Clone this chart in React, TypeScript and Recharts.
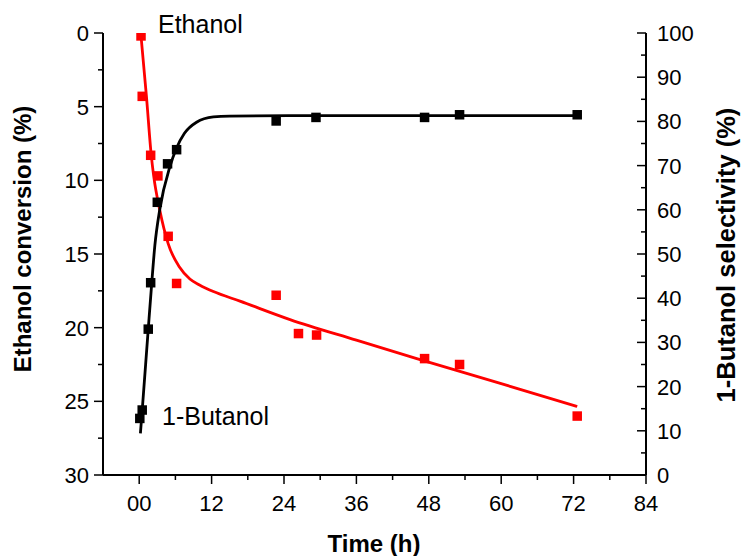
import { ComposedChart, XAxis, YAxis, Line, Scatter, Customized } from 'recharts'

const FONT = "Arial, 'Liberation Sans', sans-serif"

// measured points
const ethanolHours = [0.3, 0.5, 1.9, 3.1, 4.8, 6.2, 22.7, 26.4, 29.4, 47.3, 53.1, 72.6]
const ethanolConversion = [0.2, 4.3, 8.3, 9.7, 13.8, 17.0, 17.8, 20.4, 20.5, 22.1, 22.5, 26.0]
const butanolHours = [0.1, 0.5, 1.5, 1.9, 3.0, 4.7, 6.2, 22.7, 29.3, 47.3, 53.1, 72.6]
const butanolSelectivity = [12.8, 14.7, 33.0, 43.5, 61.7, 70.4, 73.6, 80.1, 80.9, 80.9, 81.5, 81.5]

// fitted curves
const ethanolFitHours = [0.3, 1.2, 2.0, 2.4, 3.4, 4.8, 6.7, 8.4, 10, 12.3, 16.7, 25, 36, 46, 60, 72.6]
const ethanolFitConversion = [0.2, 4.3, 8.3, 9.7, 12.0, 14.3, 15.9, 16.7, 17.1, 17.55, 18.2, 19.45, 20.85, 22.1, 23.8, 25.35]
const butanolFitHours = [0.2, 0.5, 1.5, 2.0, 2.6, 3.4, 5.1, 6.2, 7.5, 9.5, 12.3, 15, 24.8, 72.6]
const butanolFitSelectivity = [9.4, 14.7, 33, 42, 52, 60, 69.8, 74.0, 77.3, 79.8, 81.0, 81.2, 81.3, 81.3]

const timeTicks = [0, 6, 12, 18, 24, 30, 36, 42, 48, 54, 60, 66, 72, 78, 84]
const conversionTicks = [0, 2.5, 5, 7.5, 10, 12.5, 15, 17.5, 20, 22.5, 25, 27.5, 30]
const selectivityTicks = [0, 5, 10, 15, 20, 25, 30, 35, 40, 45, 50, 55, 60, 65, 70, 75, 80, 85, 90, 95, 100]

const zip = (xs: number[], ys: number[]) => xs.map((t, i) => ({ t, y: ys[i] }))

const ethanolPts = zip(ethanolHours, ethanolConversion)
const butanolPts = zip(butanolHours, butanolSelectivity)
const ethanolFit = zip(ethanolFitHours, ethanolFitConversion)
const butanolFit = zip(butanolFitHours, butanolFitSelectivity)

const Square = (props: any) => {
  const { cx, cy, fill } = props
  if (cx == null || cy == null) return null
  return <rect x={cx - 4.75} y={cy - 4.75} width={9.5} height={9.5} fill={fill} />
}

const XTick = ({ x, y, payload }: any) => {
  const major = payload.value % 12 === 0
  return (
    <g>
      <line x1={x} x2={x} y1={y} y2={y + (major ? 9 : 5)} stroke="#000" strokeWidth={1.5} />
      {major && (
        <text x={x} y={y + 36} textAnchor="middle" fontSize={22} fontFamily={FONT} fill="#000">
          {String(payload.value).padStart(2, '0')}
        </text>
      )}
    </g>
  )
}

const LeftTick = ({ x, y, payload }: any) => {
  const major = payload.value % 5 === 0
  return (
    <g>
      <line x1={x - (major ? 9 : 5)} x2={x} y1={y} y2={y} stroke="#000" strokeWidth={1.5} />
      {major && (
        <text x={x - 14} y={y + 8} textAnchor="end" fontSize={22} fontFamily={FONT} fill="#000">
          {payload.value}
        </text>
      )}
    </g>
  )
}

const RightTick = ({ x, y, payload }: any) => {
  const major = payload.value % 10 === 0
  return (
    <g>
      <line x1={x - (major ? 9 : 5)} x2={x} y1={y} y2={y} stroke="#000" strokeWidth={1.5} />
      {major && (
        <text x={x + 11} y={y + 8} textAnchor="start" fontSize={22} fontFamily={FONT} fill="#000">
          {payload.value}
        </text>
      )}
    </g>
  )
}

const Texts = () => (
  <g fontFamily={FONT} fill="#000">
    <text x={158} y={33} fontSize={25}>Ethanol</text>
    <text x={162} y={425} fontSize={25}>1-Butanol</text>
    <text x={374} y={552} fontSize={24} fontWeight="bold" textAnchor="middle">Time (h)</text>
    <text x={31} y={239} fontSize={24} fontWeight="bold" textAnchor="middle" transform="rotate(-90, 31, 239)">
      Ethanol conversion (%)
    </text>
    <text x={735} y={255} fontSize={25.5} fontWeight="bold" textAnchor="middle" transform="rotate(-90, 735, 255)">
      1-Butanol selectivity (%)
    </text>
  </g>
)

export default function App() {
  const axisLine = { stroke: '#000', strokeWidth: 2 }
  return (
    <div style={{ position: 'absolute', left: 0, top: 0, width: 744, height: 556, background: '#fff' }}>
      <ComposedChart width={744} height={556} margin={{ top: 33, right: 0, bottom: 0, left: 0 }}>
        <XAxis
          type="number"
          dataKey="t"
          domain={[-6, 84]}
          ticks={timeTicks}
          interval={0}
          allowDataOverflow
          height={81}
          tickSize={0}
          tickMargin={0}
          tickLine={false}
          axisLine={axisLine}
          tick={XTick}
        />
        <YAxis
          yAxisId="conv"
          orientation="left"
          reversed
          type="number"
          domain={[0, 30]}
          ticks={conversionTicks}
          interval={0}
          allowDataOverflow
          width={103}
          tickSize={0}
          tickMargin={0}
          tickLine={false}
          axisLine={axisLine}
          tick={LeftTick}
        />
        <YAxis
          yAxisId="sel"
          orientation="right"
          type="number"
          domain={[0, 100]}
          ticks={selectivityTicks}
          interval={0}
          allowDataOverflow
          width={98}
          tickSize={0}
          tickMargin={0}
          tickLine={false}
          axisLine={axisLine}
          tick={RightTick}
        />
        <Line
          yAxisId="conv"
          data={ethanolFit}
          dataKey="y"
          type="monotone"
          stroke="#ff0000"
          strokeWidth={2.8}
          dot={false}
          activeDot={false}
          isAnimationActive={false}
        />
        <Line
          yAxisId="sel"
          data={butanolFit}
          dataKey="y"
          type="monotone"
          stroke="#000"
          strokeWidth={2.8}
          dot={false}
          activeDot={false}
          isAnimationActive={false}
        />
        <Scatter yAxisId="conv" data={ethanolPts} dataKey="y" fill="#ff0000" shape={Square} isAnimationActive={false} />
        <Scatter yAxisId="sel" data={butanolPts} dataKey="y" fill="#000" shape={Square} isAnimationActive={false} />
        <Customized component={Texts} />
      </ComposedChart>
    </div>
  )
}
